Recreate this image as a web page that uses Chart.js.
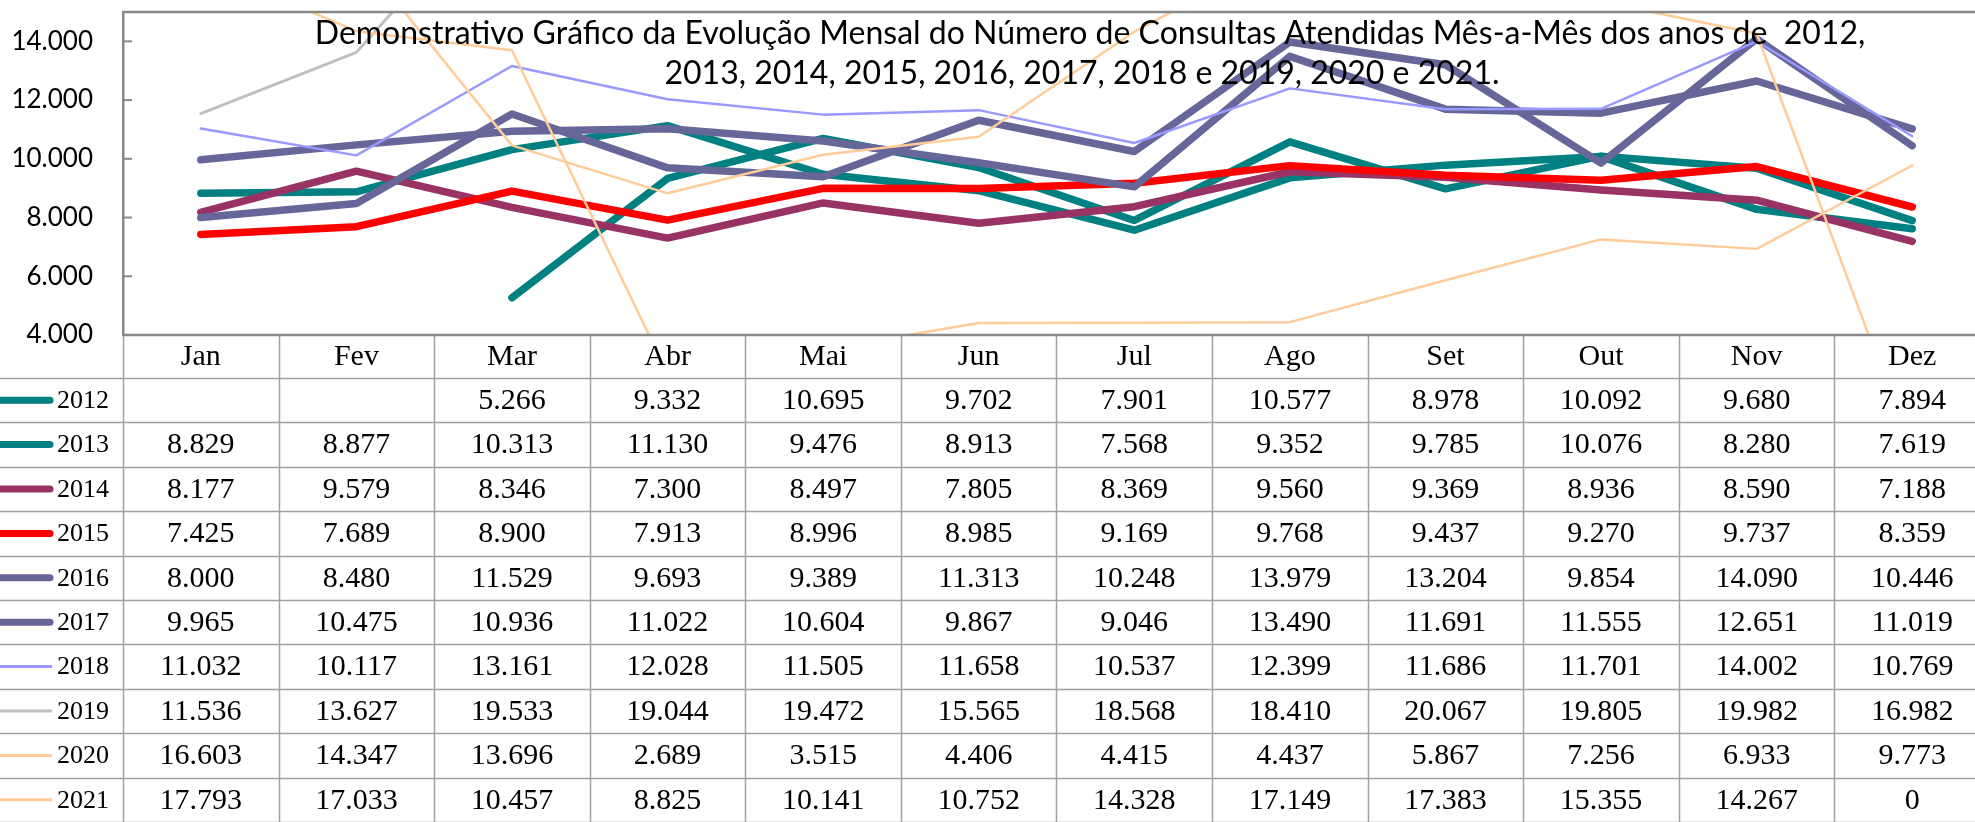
<!DOCTYPE html>
<html>
<head>
<meta charset="utf-8">
<script src="https://cdn.jsdelivr.net/npm/chart.js@4"></script>
<style>
body { margin: 0; background: #fff; overflow: hidden; }
#wrap { width: 1975px; height: 822px; overflow: hidden; }
</style>
</head>
<body>
<div id="wrap"><canvas id="chart" width="1992" height="822"></canvas></div>
<script>
// months and years
const months = ['Jan', 'Fev', 'Mar', 'Abr', 'Mai', 'Jun', 'Jul', 'Ago', 'Set', 'Out', 'Nov', 'Dez'];
const years = ['2012', '2013', '2014', '2015', '2016', '2017', '2018', '2019', '2020', '2021'];

// consultas per month, one array per year
const v2012 = [null, null, 5266, 9332, 10695, 9702, 7901, 10577, 8978, 10092, 9680, 7894];
const v2013 = [8829, 8877, 10313, 11130, 9476, 8913, 7568, 9352, 9785, 10076, 8280, 7619];
const v2014 = [8177, 9579, 8346, 7300, 8497, 7805, 8369, 9560, 9369, 8936, 8590, 7188];
const v2015 = [7425, 7689, 8900, 7913, 8996, 8985, 9169, 9768, 9437, 9270, 9737, 8359];
const v2016 = [8000, 8480, 11529, 9693, 9389, 11313, 10248, 13979, 13204, 9854, 14090, 10446];
const v2017 = [9965, 10475, 10936, 11022, 10604, 9867, 9046, 13490, 11691, 11555, 12651, 11019];
const v2018 = [11032, 10117, 13161, 12028, 11505, 11658, 10537, 12399, 11686, 11701, 14002, 10769];
const v2019 = [11536, 13627, 19533, 19044, 19472, 15565, 18568, 18410, 20067, 19805, 19982, 16982];
const v2020 = [16603, 14347, 13696, 2689, 3515, 4406, 4415, 4437, 5867, 7256, 6933, 9773];
const v2021 = [17793, 17033, 10457, 8825, 10141, 10752, 14328, 17149, 17383, 15355, 14267, 0];

const yTicks = [4000, 6000, 8000, 10000, 12000, 14000];

const seriesData = [v2012, v2013, v2014, v2015, v2016, v2017, v2018, v2019, v2020, v2021];
const colors = ['#008080', '#008080', '#993366', '#ff0000', '#666699', '#666699', '#9999ff', '#c0c0c0', '#ffcc99', '#ffcc99'];
const widths = [7.5, 7.5, 7.5, 7.5, 7.5, 7.5, 2.5, 3, 2.5, 2.5];

const title1 = 'Demonstrativo Gráfico da Evolução Mensal do Número de Consultas Atendidas Mês-a-Mês dos anos de  2012,';
const title2 = '2013, 2014, 2015, 2016, 2017, 2018 e 2019, 2020 e 2021.';

function fmt(v) {
  if (v === null || v === undefined) return '';
  return String(v).replace(/\B(?=(\d{3})+(?!\d))/g, '.');
}

const datasets = years.map((y, i) => ({
  label: y,
  data: seriesData[i],
  borderColor: colors[i],
  backgroundColor: colors[i],
  borderWidth: widths[i],
  borderCapStyle: 'round',
  borderJoinStyle: 'round',
  pointRadius: 0,
  tension: 0,
  clip: 0,
  order: years.length - i // later years drawn on top, like the original
}));

const tableH = 822 - 335;

// draws the data table under the plot + the title inside the plot
const tablePlugin = {
  id: 'dataTable',
  afterDraw(chart) {
    const ctx = chart.ctx;
    const area = chart.chartArea;
    const xs = chart.scales.x;
    const ys = chart.scales.y;
    const colW = (area.right - area.left) / months.length;
    const headTop = area.bottom;
    const headH = 43;
    const rowH = 44.4;

    ctx.save();
    // grid of the table
    ctx.strokeStyle = '#a0a0a0';
    ctx.lineWidth = 1.5;
    for (let r = 0; r <= years.length; r++) {
      const y = Math.round(headTop + headH + r * rowH) + 0.5;
      ctx.beginPath();
      ctx.moveTo(0, y);
      ctx.lineTo(chart.width, y);
      ctx.stroke();
    }
    for (let k = 0; k <= months.length; k++) {
      const x = Math.round(xs.getPixelForValue(k) - colW / 2) + 0.5;
      ctx.beginPath();
      ctx.moveTo(x, headTop);
      ctx.lineTo(x, chart.height);
      ctx.stroke();
    }

    // plot frame (top and bottom) and inner tick marks
    ctx.strokeStyle = '#888';
    ctx.lineWidth = 2.5;
    ctx.beginPath();
    ctx.moveTo(area.left, area.top);
    ctx.lineTo(chart.width, area.top);
    ctx.moveTo(area.left, area.bottom);
    ctx.lineTo(chart.width, area.bottom);
    ctx.stroke();
    ctx.lineWidth = 2;
    yTicks.forEach(v => {
      const y = ys.getPixelForValue(v);
      ctx.beginPath();
      ctx.moveTo(area.left, y);
      ctx.lineTo(area.left + 9, y);
      ctx.stroke();
    });

    // month header
    ctx.fillStyle = '#000';
    ctx.textAlign = 'center';
    ctx.textBaseline = 'middle';
    ctx.font = '30px "Liberation Serif", serif';
    months.forEach((m, i) => {
      ctx.fillText(m, xs.getPixelForValue(i), headTop + headH / 2 + 1);
    });

    // rows
    years.forEach((y, r) => {
      const cy = headTop + headH + r * rowH + rowH / 2;
      // legend key
      ctx.strokeStyle = colors[r];
      ctx.lineWidth = widths[r] > 5 ? 7 : 3;
      ctx.lineCap = widths[r] > 5 ? 'round' : 'butt';
      ctx.beginPath();
      ctx.moveTo(-10, cy);
      ctx.lineTo(widths[r] > 5 ? 50 : 52, cy);
      ctx.stroke();
      ctx.textAlign = 'left';
      ctx.font = '26px "Liberation Serif", serif';
      ctx.fillText(y, 57, cy + 1);
      // values
      ctx.textAlign = 'center';
      ctx.font = '30px "Liberation Serif", serif';
      seriesData[r].forEach((v, i) => {
        ctx.fillText(fmt(v), xs.getPixelForValue(i), cy + 1);
      });
    });

    // title inside the plot area
    ctx.font = '32px Lato, "Open Sans", sans-serif';
    ctx.textAlign = 'center';
    ctx.textBaseline = 'alphabetic';
    ctx.fillText(title1, 1090, 44);
    ctx.fillText(title2, 1082, 84);
    ctx.restore();
  }
};

new Chart(document.getElementById('chart'), {
  type: 'line',
  data: { labels: months, datasets: datasets },
  options: {
    responsive: false,
    animation: false,
    layout: { padding: { top: 12, right: 2, bottom: tableH, left: 0 } },
    plugins: { legend: { display: false }, tooltip: { enabled: false }, title: { display: false } },
    scales: {
      x: { display: false, offset: true },
      y: {
        min: 4000,
        max: 15000,
        afterBuildTicks: (scale) => {
          scale.ticks = yTicks.map(v => ({ value: v }));
        },
        afterFit: (scale) => {
          scale.width = 123;
          scale.paddingTop = 0;
          scale.paddingBottom = 0;
        },
        border: { color: '#888', width: 2.5 },
        grid: { display: true, drawOnChartArea: false, drawTicks: false },
        ticks: {
          color: '#000',
          padding: 30,
          font: { family: 'Lato', size: 26 },
          callback: (v) => fmt(v)
        }
      }
    }
  },
  plugins: [tablePlugin]
});
</script>
</body>
</html>
